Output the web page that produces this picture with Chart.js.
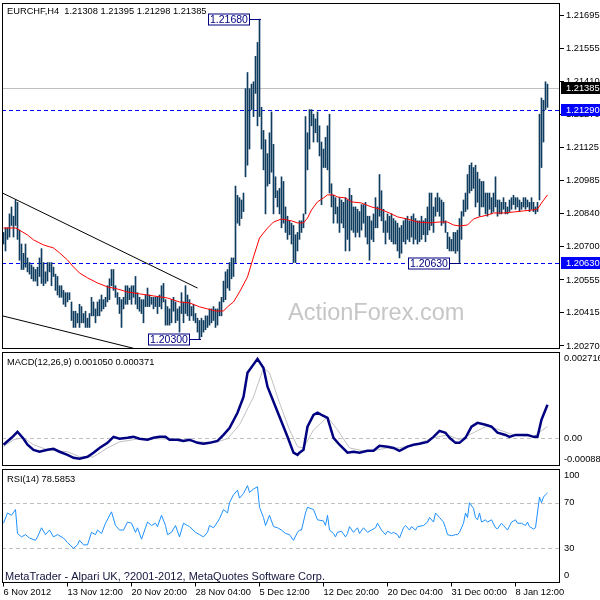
<!DOCTYPE html>
<html>
<head>
<meta charset="utf-8">
<title>EURCHF,H4</title>
<script src="https://cdn.jsdelivr.net/npm/chart.js@4.4.1/dist/chart.umd.min.js"></script>
<style>
  html, body { margin: 0; padding: 0; background: #ffffff; }
  #wrap { position: relative; width: 600px; height: 600px; overflow: hidden; background: #ffffff; }
  #wrap canvas { position: absolute; left: 0; }
</style>
</head>
<body>
<div id="wrap">
  <canvas id="priceChart" width="600" height="360" style="top:0px"></canvas>
  <canvas id="macdChart" width="600" height="140" style="top:340px"></canvas>
  <canvas id="rsiChart" width="600" height="145" style="top:455px"></canvas>
</div>
<script>
// EURCHF H4 - bar chart with MA, plus MACD(12,26,9) and RSI(14) sub windows

// ---- data ----
// bar highs / lows, one per H4 bar, oldest first
const barHigh = [
  1.2076, 1.2078, 1.2078, 1.2084, 1.2087, 1.2083, 1.2090, 1.2089, 1.2077, 1.2071,
  1.2067, 1.2071, 1.2065, 1.2063, 1.2062, 1.2061, 1.2060, 1.2061, 1.2065, 1.2069,
  1.2063, 1.2059, 1.2063, 1.2063, 1.2063, 1.2061, 1.2058, 1.2057, 1.2053, 1.2053,
  1.2051, 1.2050, 1.2050, 1.2050, 1.2046, 1.2042, 1.2042, 1.2041, 1.2045, 1.2044,
  1.2041, 1.2042, 1.2039, 1.2041, 1.2048, 1.2046, 1.2043, 1.2046, 1.2047, 1.2049,
  1.2047, 1.2048, 1.2053, 1.2056, 1.2060, 1.2060, 1.2053, 1.2050, 1.2048, 1.2047,
  1.2048, 1.2053, 1.2053, 1.2052, 1.2053, 1.2053, 1.2057, 1.2050, 1.2048, 1.2047,
  1.2047, 1.2049, 1.2052, 1.2049, 1.2048, 1.2048, 1.2048, 1.2048, 1.2049, 1.2053,
  1.2054, 1.2047, 1.2044, 1.2043, 1.2047, 1.2048, 1.2046, 1.2043, 1.2044, 1.2050,
  1.2046, 1.2053, 1.2049, 1.2047, 1.2044, 1.2045, 1.2041, 1.2039, 1.2038, 1.2039,
  1.2038, 1.2040, 1.2040, 1.2043, 1.2043, 1.2044, 1.2043, 1.2043, 1.2046, 1.2048,
  1.2055, 1.2059, 1.2060, 1.2063, 1.2065, 1.2065, 1.2096, 1.2092, 1.2091, 1.2090,
  1.2093, 1.2138, 1.2145, 1.2138, 1.2140, 1.2141, 1.2152, 1.2158, 1.2168, 1.2130,
  1.2120, 1.2116, 1.2110, 1.2119, 1.2128, 1.2114, 1.2100, 1.2094, 1.2095, 1.2100,
  1.2098, 1.2087, 1.2083, 1.2081, 1.2080, 1.2079, 1.2075, 1.2076, 1.2081, 1.2081,
  1.2084, 1.2126, 1.2119, 1.2129, 1.2129, 1.2127, 1.2125, 1.2128, 1.2122, 1.2115,
  1.2112, 1.2117, 1.2122, 1.2127, 1.2097, 1.2092, 1.2091, 1.2087, 1.2091, 1.2090,
  1.2089, 1.2091, 1.2090, 1.2095, 1.2092, 1.2087, 1.2087, 1.2086, 1.2085, 1.2088,
  1.2088, 1.2089, 1.2083, 1.2083, 1.2081, 1.2084, 1.2091, 1.2087, 1.2101, 1.2094,
  1.2086, 1.2081, 1.2084, 1.2083, 1.2084, 1.2082, 1.2081, 1.2080, 1.2078, 1.2079,
  1.2081, 1.2082, 1.2083, 1.2081, 1.2083, 1.2084, 1.2082, 1.2081, 1.2081, 1.2083,
  1.2081, 1.2082, 1.2087, 1.2093, 1.2093, 1.2087, 1.2091, 1.2093, 1.2091, 1.2090,
  1.2089, 1.2081, 1.2076, 1.2074, 1.2073, 1.2076, 1.2076, 1.2077, 1.2082, 1.2085,
  1.2090, 1.2093, 1.2101, 1.2105, 1.2106, 1.2104, 1.2105, 1.2102, 1.2099, 1.2098,
  1.2098, 1.2093, 1.2093, 1.2093, 1.2091, 1.2093, 1.2100, 1.2090, 1.2090, 1.2089,
  1.2091, 1.2089, 1.2087, 1.2090, 1.2091, 1.2092, 1.2091, 1.2091, 1.2090, 1.2089,
  1.2091, 1.2091, 1.2090, 1.2089, 1.2091, 1.2089, 1.2087, 1.2089, 1.2127, 1.2134,
  1.2133, 1.2141, 1.2140
];
const barLow = [
  1.2071, 1.2068, 1.2073, 1.2074, 1.2079, 1.2074, 1.2079, 1.2073, 1.2064, 1.2060,
  1.2060, 1.2061, 1.2059, 1.2058, 1.2056, 1.2055, 1.2055, 1.2053, 1.2057, 1.2054,
  1.2053, 1.2054, 1.2055, 1.2059, 1.2053, 1.2057, 1.2051, 1.2049, 1.2048, 1.2048,
  1.2045, 1.2044, 1.2046, 1.2047, 1.2038, 1.2035, 1.2035, 1.2037, 1.2035, 1.2037,
  1.2037, 1.2035, 1.2035, 1.2035, 1.2040, 1.2040, 1.2037, 1.2040, 1.2040, 1.2042,
  1.2043, 1.2044, 1.2046, 1.2047, 1.2053, 1.2051, 1.2048, 1.2045, 1.2041, 1.2035,
  1.2043, 1.2045, 1.2045, 1.2047, 1.2045, 1.2048, 1.2045, 1.2043, 1.2042, 1.2041,
  1.2037, 1.2044, 1.2044, 1.2044, 1.2045, 1.2043, 1.2044, 1.2041, 1.2044, 1.2043,
  1.2046, 1.2036, 1.2036, 1.2036, 1.2037, 1.2042, 1.2037, 1.2038, 1.2033, 1.2041,
  1.2037, 1.2041, 1.2040, 1.2038, 1.2040, 1.2038, 1.2037, 1.2033, 1.2030, 1.2031,
  1.2033, 1.2034, 1.2035, 1.2036, 1.2037, 1.2038, 1.2035, 1.2036, 1.2040, 1.2040,
  1.2046, 1.2047, 1.2052, 1.2051, 1.2056, 1.2057, 1.2063, 1.2080, 1.2079, 1.2082,
  1.2085, 1.2100, 1.2105, 1.2112, 1.2129, 1.2126, 1.2136, 1.2122, 1.2126, 1.2112,
  1.2103, 1.2084, 1.2096, 1.2097, 1.2102, 1.2084, 1.2091, 1.2087, 1.2084, 1.2078,
  1.2080, 1.2076, 1.2073, 1.2075, 1.2071, 1.2063, 1.2063, 1.2068, 1.2073, 1.2076,
  1.2078, 1.2084, 1.2103, 1.2112, 1.2122, 1.2115, 1.2119, 1.2115, 1.2109, 1.2088,
  1.2104, 1.2104, 1.2103, 1.2093, 1.2087, 1.2080, 1.2084, 1.2080, 1.2076, 1.2080,
  1.2078, 1.2068, 1.2073, 1.2068, 1.2077, 1.2076, 1.2074, 1.2076, 1.2074, 1.2077,
  1.2080, 1.2074, 1.2071, 1.2064, 1.2073, 1.2072, 1.2078, 1.2078, 1.2083, 1.2081,
  1.2076, 1.2071, 1.2076, 1.2073, 1.2072, 1.2071, 1.2071, 1.2068, 1.2065, 1.2067,
  1.2072, 1.2071, 1.2073, 1.2072, 1.2074, 1.2071, 1.2073, 1.2071, 1.2072, 1.2073,
  1.2075, 1.2072, 1.2075, 1.2077, 1.2079, 1.2076, 1.2083, 1.2085, 1.2083, 1.2079,
  1.2080, 1.2076, 1.2069, 1.2068, 1.2068, 1.2068, 1.2067, 1.2068, 1.2063, 1.2073,
  1.2083, 1.2085, 1.2086, 1.2093, 1.2094, 1.2095, 1.2087, 1.2089, 1.2083, 1.2087,
  1.2087, 1.2084, 1.2083, 1.2086, 1.2084, 1.2085, 1.2087, 1.2083, 1.2084, 1.2084,
  1.2086, 1.2084, 1.2084, 1.2085, 1.2086, 1.2088, 1.2086, 1.2087, 1.2085, 1.2086,
  1.2087, 1.2086, 1.2087, 1.2085, 1.2086, 1.2085, 1.2084, 1.2085, 1.2090, 1.2104,
  1.2115, 1.2129, 1.2130
];

// red moving average, sampled at these bars
const maBars = [0, 6, 7, 12, 15, 20, 25, 28, 32, 35, 38, 42, 47, 52, 57, 62, 68, 75, 82, 88,
  93, 98, 102, 106, 110, 112, 115, 118, 122, 125, 128, 132, 135, 139, 144, 147, 150, 152, 154, 157,
  160, 162, 165, 167, 171, 174, 179, 184, 188, 193, 197, 202, 207, 213, 218, 222, 225, 228, 232, 235,
  238, 242, 245, 250, 255, 260, 265, 267, 269, 272];
const maValues = [1.20779, 1.20779, 1.20775, 1.20749, 1.20728, 1.20706, 1.20693, 1.20672, 1.20641, 1.20611,
  1.20585, 1.20564, 1.20542, 1.20525, 1.20516, 1.20503, 1.20495, 1.20486, 1.20477, 1.20460,
  1.20456, 1.20439, 1.20430, 1.20421, 1.20421, 1.20439, 1.20460, 1.20503, 1.20568, 1.20654,
  1.20736, 1.20779, 1.20805, 1.20818, 1.20810, 1.20801, 1.20801, 1.20822, 1.20857, 1.20892,
  1.20909, 1.20922, 1.20922, 1.20913, 1.20909, 1.20892, 1.20887, 1.20870, 1.20861, 1.20844,
  1.20827, 1.20818, 1.20805, 1.20801, 1.20805, 1.20805, 1.20792, 1.20788, 1.20792, 1.20818,
  1.20827, 1.20835, 1.20844, 1.20844, 1.20848, 1.20853, 1.20857, 1.20861, 1.20887, 1.20922];

// hand drawn trend lines (bar, price)
const upperTrendBars = [-0.5, 97];
const upperTrendPrices = [1.2093, 1.2052];
const lowerTrendBars = [-0.5, 65];
const lowerTrendPrices = [1.2040, 1.2026];

// horizontal levels and labelled extremes
const lastClose = 1.21385;
const levelPrices = [1.21290, 1.20630];
const markBars = [128, 98, 228];
const markPrices = [1.21680, 1.20300, 1.20630];

const priceTicks = [1.21695, 1.21555, 1.21410, 1.21270, 1.21125, 1.20985, 1.20840, 1.20700, 1.20555, 1.20415, 1.20270];

// MACD main line and signal
const macdBars = [0, 4, 7, 10, 12, 15, 18, 22, 25, 28, 32, 35, 38, 42, 45, 48, 52, 55, 58, 62,
  65, 68, 72, 75, 78, 81, 83, 87, 90, 93, 97, 100, 103, 107, 110, 113, 117, 120, 122, 127,
  130, 132, 137, 142, 145, 147, 148, 150, 152, 155, 157, 159, 162, 165, 168, 172, 175, 178, 182, 185,
  188, 192, 195, 198, 202, 205, 208, 212, 215, 218, 221, 223, 226, 228, 231, 234, 237, 241, 244, 247,
  251, 253, 256, 259, 262, 265, 267, 269, 272];
const macdValues = [-0.00021, 0.00001, 0.00020, -0.00002, -0.00021, -0.00037, -0.00043, -0.00037, -0.00034, -0.00043,
  -0.00053, -0.00062, -0.00065, -0.00059, -0.00046, -0.00031, -0.00015, 0.00004, -0.00002, 0.00001,
  0.00004, -0.00002, -0.00005, 0.00001, 0.00004, 0.00004, -0.00005, -0.00005, -0.00009, -0.00005,
  -0.00015, -0.00018, -0.00015, -0.00009, 0.00010, 0.00032, 0.00080, 0.00130, 0.00206, 0.00250,
  0.00221, 0.00162, 0.00083, 0.00004, -0.00046, -0.00053, -0.00046, -0.00037, 0.00036, 0.00073,
  0.00080, 0.00073, 0.00064, 0.00001, -0.00021, -0.00046, -0.00043, -0.00046, -0.00040, -0.00040,
  -0.00024, -0.00027, -0.00031, -0.00040, -0.00027, -0.00021, -0.00018, -0.00012, 0.00004, 0.00023,
  0.00017, 0.00001, -0.00015, -0.00015, 0.00001, 0.00036, 0.00048, 0.00042, 0.00036, 0.00017,
  0.00010, 0.00004, 0.00010, 0.00010, 0.00010, 0.00004, 0.00004, 0.00058, 0.00105];
const signalBars = [0, 5, 10, 15, 22, 32, 38, 45, 52, 58, 68, 78, 88, 98, 105, 112, 118, 125, 130, 133,
  138, 143, 147, 150, 155, 162, 167, 173, 182, 192, 198, 208, 215, 222, 228, 235, 242, 248, 255, 265, 272];
const signalValues = [-0.00027, -0.00005, 0.00001, -0.00021, -0.00037, -0.00043, -0.00059, -0.00059, -0.00031, -0.00012,
  -0.00002, -0.00002, -0.00005, -0.00012, -0.00015, -0.00002, 0.00042, 0.00130, 0.00221, 0.00206,
  0.00111, 0.00026, -0.00027, -0.00031, 0.00026, 0.00067, 0.00026, -0.00031, -0.00043, -0.00031,
  -0.00031, -0.00015, 0.00001, 0.00010, -0.00005, 0.00017, 0.00039, 0.00026, 0.00010, 0.00004, 0.00037];
const macdMin = -0.00088, macdMax = 0.002716;
const macdTickText = ['0.002716', '0.00', '-0.00088'];

// RSI(14)
const rsiBars = [0, 2, 4, 6, 7, 9, 11, 13, 16, 17, 19, 21, 23, 25, 27, 30, 32, 35, 37, 38,
  40, 42, 44, 46, 47, 49, 51, 54, 56, 58, 60, 62, 64, 66, 67, 69, 71, 72, 74, 76,
  77, 79, 81, 82, 84, 86, 88, 90, 92, 93, 96, 98, 100, 102, 103, 105, 107, 108, 110, 112,
  113, 115, 117, 118, 120, 122, 123, 125, 127, 128, 130, 131, 133, 135, 137, 139, 141, 143, 145, 147,
  148, 149, 151, 152, 155, 157, 160, 161, 162, 163, 165, 166, 167, 169, 171, 172, 173, 175, 177, 178,
  180, 182, 184, 186, 187, 189, 191, 192, 194, 195, 197, 198, 200, 201, 203, 204, 206, 207, 210, 212,
  213, 215, 216, 218, 220, 221, 222, 224, 226, 227, 228, 230, 231, 232, 233, 235, 236, 237, 238, 239,
  241, 242, 244, 246, 247, 249, 250, 252, 254, 256, 257, 259, 261, 262, 263, 265, 266, 268, 269, 270,
  271, 272];
const rsiValues = [52, 61, 59, 64, 43, 40, 42, 39, 37, 40, 48, 42, 46, 40, 42, 39, 35, 30, 33, 37,
  33, 33, 44, 42, 46, 43, 52, 62, 50, 46, 46, 53, 52, 44, 48, 38, 48, 53, 50, 52,
  49, 59, 50, 42, 44, 50, 40, 52, 50, 49, 44, 42, 40, 44, 50, 48, 53, 56, 64, 61,
  70, 77, 81, 74, 78, 85, 79, 82, 84, 66, 57, 50, 59, 49, 48, 46, 43, 42, 37, 44,
  46, 46, 61, 66, 64, 55, 54, 50, 59, 46, 43, 40, 44, 45, 40, 43, 49, 44, 48, 43,
  48, 44, 46, 48, 52, 46, 42, 45, 43, 44, 42, 39, 48, 50, 46, 49, 46, 49, 50, 53,
  57, 53, 61, 57, 53, 48, 42, 41, 42, 42, 44, 52, 61, 57, 70, 65, 57, 55, 61, 53,
  55, 53, 55, 48, 47, 52, 50, 46, 53, 55, 52, 52, 50, 53, 49, 47, 48, 75, 70, 75,
  77, 78.59];
const rsiLevels = [70, 30];
const rsiTickText = ['100', '70', '30', '0'];

// time axis
const timeTicks = [0, 32, 64, 96, 128, 160, 192, 224, 256];
const timeLabels = ['6 Nov 2012', '13 Nov 12:00', '20 Nov 20:00', '28 Nov 04:00', '5 Dec 12:00',
  '12 Dec 20:00', '20 Dec 04:00', '31 Dec 00:00', '8 Jan 12:00'];

// ---- drawing ----
const FONT = "'Liberation Sans', Arial, sans-serif";
Chart.defaults.font.family = FONT;
Chart.defaults.font.size = 9.3;
Chart.defaults.color = '#000000';

const xMin = -0.75, xMax = 278.25;
const pts = (xs, ys) => xs.map((x, k) => ({ x: x, y: ys[k] }));

const baseOptions = {
  responsive: false,
  animation: false,
  devicePixelRatio: 1,
  events: [],
  plugins: { legend: { display: false }, tooltip: { enabled: false } }
};

function hiddenX() {
  return { type: 'linear', min: xMin, max: xMax, offset: false, display: false };
}

function rightAxis(min, max, ticksFor, labelFor, pad, tickColor) {
  return {
    type: 'linear', position: 'right', min: min, max: max,
    afterBuildTicks: s => { s.ticks = ticksFor().map(v => ({ value: v })); },
    afterFit: s => { s.width = 40; s.paddingTop = 0; s.paddingBottom = 0; },
    ticks: { autoSkip: false, padding: pad, callback: labelFor },
    grid: { drawOnChartArea: false, drawTicks: true, tickLength: 4, color: tickColor },
    border: { display: false }
  };
}

function frame(ctx, a) {
  const l = Math.round(a.left) + 0.5, t = Math.round(a.top) + 0.5;
  const r = Math.round(a.right) - 0.5, b = Math.round(a.bottom) - 0.5;
  ctx.save();
  ctx.strokeStyle = '#000000';
  ctx.lineWidth = 1;
  ctx.setLineDash([]);
  ctx.strokeRect(l, t, r - l, b - t);
  ctx.restore();
}

function hLine(ctx, a, py, color, dash) {
  const y = Math.round(py) + 0.5;
  ctx.save();
  ctx.strokeStyle = color;
  ctx.lineWidth = 1;
  ctx.setLineDash(dash);
  ctx.beginPath();
  ctx.moveTo(a.left, y);
  ctx.lineTo(a.right, y);
  ctx.stroke();
  ctx.restore();
}

function label(ctx, text, x, y, size, color) {
  ctx.save();
  ctx.font = size + 'px ' + FONT;
  ctx.fillStyle = color;
  ctx.textBaseline = 'alphabetic';
  ctx.textAlign = 'left';
  ctx.fillText(text, x, y);
  ctx.restore();
}

function priceTag(ctx, a, py, text, bg) {
  const cy = Math.round(py);
  ctx.save();
  ctx.fillStyle = bg;
  ctx.fillRect(a.right + 1, cy - 6, 40, 12);
  ctx.fillStyle = '#ffffff';
  ctx.font = '9.3px ' + FONT;
  ctx.textBaseline = 'middle';
  ctx.fillText(text, a.right + 6, cy + 0.5);
  ctx.restore();
}

const pricePanel = {
  id: 'pricePanel',
  beforeDatasetsDraw(chart) {
    const { ctx, chartArea: a, scales: { y } } = chart;
    ctx.save();
    ctx.beginPath();
    ctx.rect(a.left, a.top, a.right - a.left, a.bottom - a.top);
    ctx.clip();
    label(ctx, 'ActionForex.com', 288, 320, 23.5, '#c6c6c6');
    hLine(ctx, a, y.getPixelForValue(lastClose), '#c0c0c0', []);
    levelPrices.forEach(v => hLine(ctx, a, y.getPixelForValue(v), '#0000ff', [4, 3]));
    ctx.restore();
  },
  afterDatasetsDraw(chart) {
    const { ctx, scales: { x, y } } = chart;
    ctx.save();
    ctx.font = '10.5px ' + FONT;
    ctx.lineWidth = 1;
    markBars.forEach((b, k) => {
      const bx = Math.round(x.getPixelForValue(b));
      const by = Math.round(y.getPixelForValue(markPrices[k])) + 0.5;
      const text = markPrices[k].toFixed(5);
      const w = Math.ceil(ctx.measureText(text).width) + 4;
      const right = bx - 10;
      ctx.fillStyle = '#ffffff';
      ctx.fillRect(right - w, by - 5.5, w, 11);
      ctx.strokeStyle = '#000080';
      ctx.strokeRect(right - w + 0.5, by - 5.5, w - 1, 11);
      ctx.fillStyle = '#000080';
      ctx.textBaseline = 'middle';
      ctx.fillText(text, right - w + 2, by + 0.5);
      ctx.beginPath();
      ctx.moveTo(right, by);
      ctx.lineTo(bx + 1, by);
      ctx.stroke();
    });
    ctx.restore();
  },
  afterDraw(chart) {
    const { ctx, chartArea: a, scales: { y } } = chart;
    frame(ctx, a);
    label(ctx, 'EURCHF,H4  1.21308 1.21395 1.21298 1.21385', 7, a.top + 11, 9.3, '#000000');
    priceTag(ctx, a, y.getPixelForValue(lastClose), lastClose.toFixed(5), '#000000');
    levelPrices.forEach(v => priceTag(ctx, a, y.getPixelForValue(v), v.toFixed(5), '#0000ff'));
  }
};

new Chart(document.getElementById('priceChart'), {
  type: 'bar',
  data: {
    datasets: [
      { type: 'line', data: pts(maBars, maValues), borderColor: '#ff0000', borderWidth: 1,
        pointRadius: 0, tension: 0, order: 0 },
      { type: 'line', data: pts(upperTrendBars, upperTrendPrices), borderColor: '#000000', borderWidth: 1,
        pointRadius: 0, order: 1 },
      { type: 'line', data: pts(lowerTrendBars, lowerTrendPrices), borderColor: '#000000', borderWidth: 1,
        pointRadius: 0, order: 1 },
      { type: 'bar', data: barHigh.map((h, i) => ({ x: i, y: [barLow[i], h] })),
        backgroundColor: '#0e3c5e', borderWidth: 0, barThickness: 1, order: 2 }
    ]
  },
  options: Object.assign({}, baseOptions, {
    layout: { padding: { left: 2, top: 3, right: 0, bottom: 11 } },
    scales: {
      x: hiddenX(),
      y: rightAxis(1.20257, 1.21750, () => priceTicks, v => v.toFixed(5), 2, '#000000')
    }
  }),
  plugins: [pricePanel]
});

const macdPanel = {
  id: 'macdPanel',
  beforeDatasetsDraw(chart) {
    const { ctx, chartArea: a, scales: { y } } = chart;
    hLine(ctx, a, y.getPixelForValue(0), '#c0c0c0', [4, 3]);
  },
  afterDraw(chart) {
    const { ctx, chartArea: a } = chart;
    frame(ctx, a);
    label(ctx, 'MACD(12,26,9) 0.001050 0.000371', 7, a.top + 13, 9.3, '#000000');
  }
};

new Chart(document.getElementById('macdChart'), {
  type: 'line',
  data: {
    datasets: [
      { data: pts(macdBars, macdValues), borderColor: '#000080', borderWidth: 2.5, pointRadius: 0, order: 0 },
      { data: pts(signalBars, signalValues), borderColor: '#c0c0c0', borderWidth: 1, pointRadius: 0, order: 1 }
    ]
  },
  options: Object.assign({}, baseOptions, {
    layout: { padding: { left: 2, top: 12, right: 0, bottom: 14 } },
    scales: {
      x: hiddenX(),
      y: rightAxis(macdMin, macdMax, () => {
        const inset = (macdMax - macdMin) * 6.5 / 114;
        return [macdMax - inset, 0, macdMin + inset];
      }, (v, i) => macdTickText[i], 0, 'rgba(0,0,0,0)')
    }
  }),
  plugins: [macdPanel]
});

const rsiPanel = {
  id: 'rsiPanel',
  beforeDatasetsDraw(chart) {
    const { ctx, chartArea: a, scales: { y } } = chart;
    rsiLevels.forEach(v => hLine(ctx, a, y.getPixelForValue(v), '#c0c0c0', [4, 3]));
  },
  afterDraw(chart) {
    const { ctx, chartArea: a } = chart;
    frame(ctx, a);
    label(ctx, 'RSI(14) 78.5853', 7, a.top + 13, 9.3, '#000000');
    label(ctx, 'MetaTrader - Alpari UK, ?2001-2012, MetaQuotes Software Corp.', 5, a.bottom - 3, 11, '#14143c');
  }
};

new Chart(document.getElementById('rsiChart'), {
  type: 'line',
  data: {
    datasets: [
      { data: pts(rsiBars, rsiValues), borderColor: '#1e90ff', borderWidth: 1, pointRadius: 0 }
    ]
  },
  options: Object.assign({}, baseOptions, {
    layout: { padding: { left: 2, top: 13.5, right: 0, bottom: 0 } },
    scales: {
      x: {
        type: 'linear', position: 'bottom', min: xMin, max: xMax, offset: false,
        afterBuildTicks: s => { s.ticks = timeTicks.map(v => ({ value: v })); },
        afterFit: s => { s.height = 17.5; s.paddingLeft = 0; s.paddingRight = 0; },
        ticks: { autoSkip: false, maxRotation: 0, minRotation: 0, align: 'start', padding: 0,
          callback: (v, i) => timeLabels[i] },
        grid: { drawOnChartArea: false, drawTicks: true, tickLength: 4, color: '#000000' },
        border: { display: false }
      },
      y: rightAxis(0, 100, () => [94, 70, 30, 6], (v, i) => rsiTickText[i], 0, 'rgba(0,0,0,0)')
    }
  }),
  plugins: [rsiPanel]
});
</script>
</body>
</html>
